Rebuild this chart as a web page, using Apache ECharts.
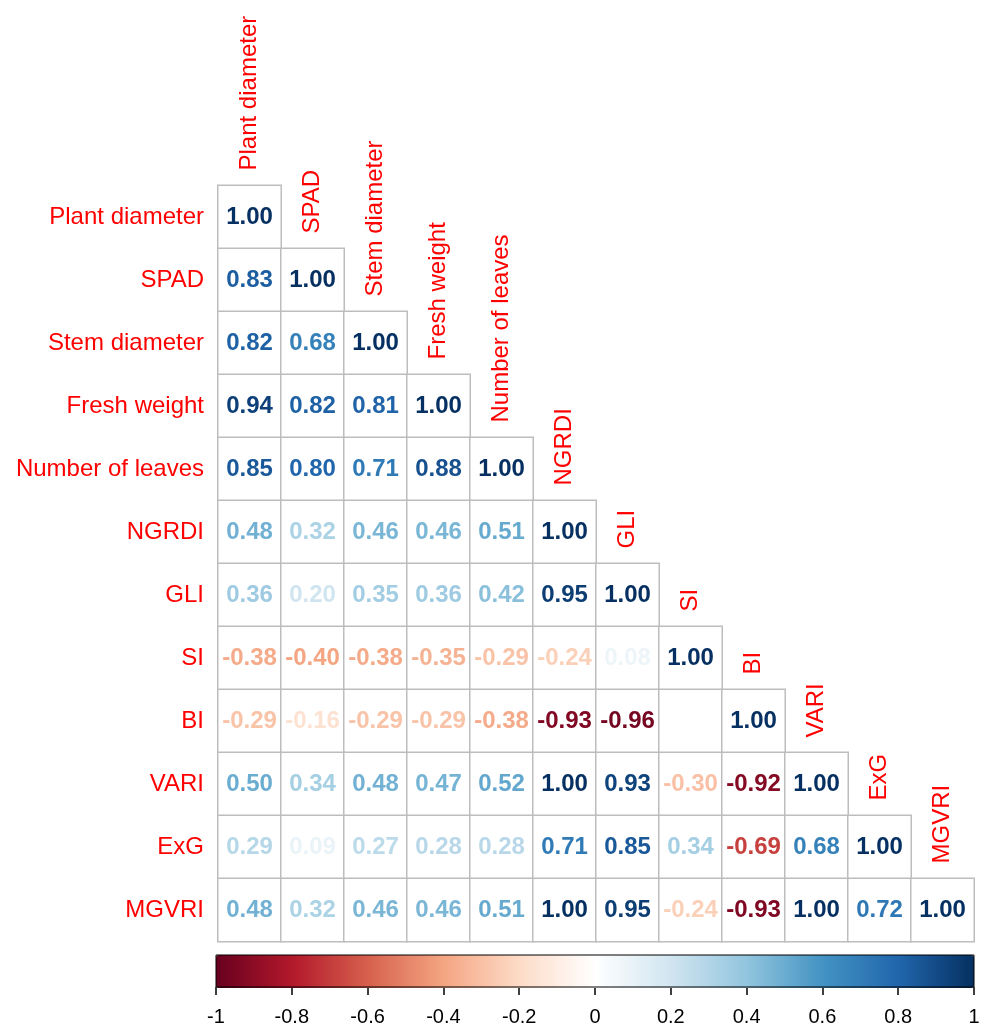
<!DOCTYPE html>
<html>
<head>
<meta charset="utf-8">
<script src="https://cdn.jsdelivr.net/npm/echarts@6/dist/echarts.min.js"></script>
<style>
  html, body { margin: 0; padding: 0; background: #fff; }
  #main { width: 984px; height: 1027px; }
</style>
</head>
<body>
<div id="main"></div>
<script>
// variable names (rows and columns)
const labels = ['Plant diameter', 'SPAD', 'Stem diameter', 'Fresh weight', 'Number of leaves',
  'NGRDI', 'GLI', 'SI', 'BI', 'VARI', 'ExG', 'MGVRI'];

// lower triangle of the correlation matrix, one row each
const plantDiameter = [1.00];
const spad = [0.83, 1.00];
const stemDiameter = [0.82, 0.68, 1.00];
const freshWeight = [0.94, 0.82, 0.81, 1.00];
const numberOfLeaves = [0.85, 0.80, 0.71, 0.88, 1.00];
const ngrdi = [0.48, 0.32, 0.46, 0.46, 0.51, 1.00];
const gli = [0.36, 0.20, 0.35, 0.36, 0.42, 0.95, 1.00];
const si = [-0.38, -0.40, -0.38, -0.35, -0.29, -0.24, 0.08, 1.00];
const bi = [-0.29, -0.16, -0.29, -0.29, -0.38, -0.93, -0.96, 0.00, 1.00];
const vari = [0.50, 0.34, 0.48, 0.47, 0.52, 1.00, 0.93, -0.30, -0.92, 1.00];
const exg = [0.29, 0.09, 0.27, 0.28, 0.28, 0.71, 0.85, 0.34, -0.69, 0.68, 1.00];
const mgvri = [0.48, 0.32, 0.46, 0.46, 0.51, 1.00, 0.95, -0.24, -0.93, 1.00, 0.72, 1.00];

const rows = [plantDiameter, spad, stemDiameter, freshWeight, numberOfLeaves,
  ngrdi, gli, si, bi, vari, exg, mgvri];

// RdBu palette, -1 .. 1
const rdbu = ['#67001F', '#B2182B', '#D6604D', '#F4A582', '#FDDBC7', '#FFFFFF',
  '#D1E5F0', '#92C5DE', '#4393C3', '#2166AC', '#053061'];

//颜色插值
function valueColor(v) {
  let t = (v + 1) / 2 * (rdbu.length - 1);
  let i = Math.min(Math.floor(t), rdbu.length - 2);
  let f = t - i;
  let a = echarts.color.parse(rdbu[i]);
  let b = echarts.color.parse(rdbu[i + 1]);
  let c = [0, 1, 2].map(k => Math.round(a[k] + (b[k] - a[k]) * f));
  return `rgb(${c[0]},${c[1]},${c[2]})`;
}

let cells = [];
let numbers = [];
rows.forEach((r, i) => {
  r.forEach((v, j) => {
    cells.push([j, i, v]);
    numbers.push({ value: [j, i, v], label: { color: valueColor(v) } });
  })
})

let diag = labels.map((n, i) => [i, i]);

const font = "'Liberation Sans', Arial, sans-serif";

let chart = echarts.init(document.getElementById('main'));

let option = {
  backgroundColor: '#ffffff',
  animation: false,
  grid: [
    { left: 218, top: 185.5, width: 756, height: 756 },
    { left: 216, top: 955, width: 758, height: 33, show: true,
      borderColor: '#000', borderWidth: 1, backgroundColor: 'transparent', z: 10 }
  ],
  xAxis: [
    { type: 'category', data: labels, gridIndex: 0, show: false },
    { type: 'value', gridIndex: 1, min: -1, max: 1, interval: 0.2, position: 'bottom',
      axisLine: { show: false }, splitLine: { show: false },
      axisTick: { show: true, length: 8, lineStyle: { color: '#000', width: 1.5 } },
      axisLabel: { margin: 20, fontSize: 20, color: '#000', fontFamily: "'Liberation Sans Narrow', " + font } }
  ],
  yAxis: [
    { type: 'category', data: labels, gridIndex: 0, inverse: true,
      axisLine: { show: false }, axisTick: { show: false }, splitLine: { show: false },
      axisLabel: { color: '#ff0000', fontSize: 24, fontFamily: font, margin: 14 } },
    { type: 'value', gridIndex: 1, show: false, min: 0, max: 1 }
  ],
  visualMap: {
    type: 'continuous',
    min: -1,
    max: 1,
    dimension: 2,
    seriesIndex: 1,
    orient: 'horizontal',
    left: 216,
    top: 955,
    itemWidth: 33,
    itemHeight: 758,
    padding: 0,
    calculable: false,
    showLabel: false,
    text: null,
    inRange: { color: rdbu }
  },
  series: [
    {
      type: 'heatmap',
      xAxisIndex: 0,
      yAxisIndex: 0,
      data: cells,
      itemStyle: { color: '#ffffff', borderColor: '#bdbdbd', borderWidth: 1.5 },
      label: { show: false },
      emphasis: { disabled: true }
    },
    {
      type: 'scatter',
      xAxisIndex: 0,
      yAxisIndex: 0,
      data: numbers,
      symbolSize: 0,
      itemStyle: { opacity: 1 },
      z: 5,
      label: {
        show: true,
        position: 'inside',
        fontSize: 24,
        fontWeight: 'bold',
        fontFamily: font,
        formatter: p => p.value[2].toFixed(2)
      }
    },
    {
      type: 'scatter',
      xAxisIndex: 0,
      yAxisIndex: 0,
      data: diag,
      symbolSize: 63,
      itemStyle: { color: 'rgba(0,0,0,0)', opacity: 1 },
      label: {
        show: true,
        position: 'top',
        distance: 15,
        rotate: 90,
        align: 'left',
        verticalAlign: 'middle',
        color: '#ff0000',
        fontSize: 24,
        fontFamily: font,
        formatter: p => labels[p.dataIndex]
      }
    }
  ]
};

chart.setOption(option);
</script>
</body>
</html>
